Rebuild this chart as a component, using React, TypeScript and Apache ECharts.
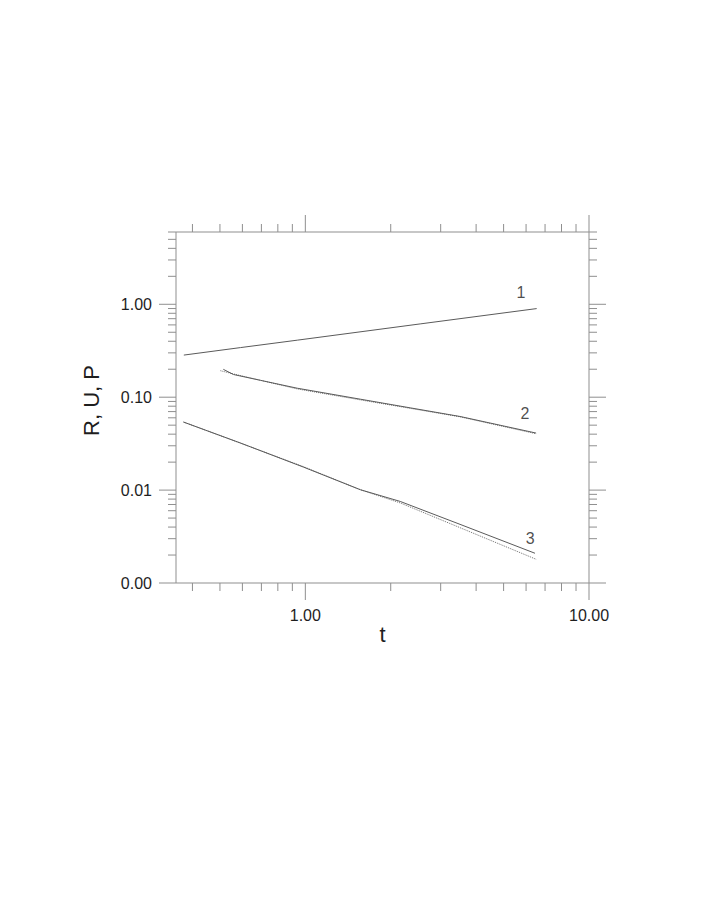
import React, { useEffect, useRef } from 'react';
import * as echarts from 'echarts';

const X_MIN = 0.35;
const X_MAX = 10;
const Y_MIN = 0.001;
const Y_MAX = 6;

// Curve 1 (solid)
const c1T = [0.373, 0.591, 0.937, 2.54, 6.54];
const c1V = [0.284, 0.342, 0.411, 0.615, 0.899];
// Curve 2 (solid / dotted)
const c2T = [0.514, 0.558, 0.694, 0.937, 1.562, 2.343, 3.51, 6.51];
const c2V = [0.1995, 0.1755, 0.152, 0.1249, 0.0952, 0.0768, 0.062, 0.0411];
const c2dT = [0.502, 0.558, 0.937, 1.562, 3.51, 6.51];
const c2dV = [0.1928, 0.178, 0.1227, 0.0936, 0.0615, 0.0404];
// Curve 3 (solid / dotted)
const c3T = [0.372, 0.591, 0.984, 1.562, 2.16, 3.51, 6.45];
const c3V = [0.054, 0.0321, 0.0177, 0.0101, 0.00755, 0.00428, 0.00209];
const c3dT = [0.372, 0.591, 0.984, 1.562, 2.16, 3.51, 6.51];
const c3dV = [0.054, 0.032, 0.0179, 0.0101, 0.00728, 0.00394, 0.0018];

// Curve labels
const labelTexts = ['1', '2', '3'];
const labelT = [5.76, 5.95, 6.2];
const labelV = [1.354, 0.0674, 0.003];

// Ticks
const xMajor = [1, 10];
const xMinor = [0.4, 0.5, 0.6, 0.7, 0.8, 0.9, 2, 3, 4, 5, 6, 7, 8, 9];
const yMajor = [0.001, 0.01, 0.1, 1];
const yMinor = [
  0.002, 0.003, 0.004, 0.005, 0.006, 0.007, 0.008, 0.009,
  0.02, 0.03, 0.04, 0.05, 0.06, 0.07, 0.08, 0.09,
  0.2, 0.3, 0.4, 0.5, 0.6, 0.7, 0.8, 0.9,
  2, 3, 4, 5, 6,
];

const AXIS_COLOR = '#8f8f8f';
const LINE_COLOR = '#5a5a5a';
const DOT_COLOR = '#707070';
const TEXT_COLOR = '#1e1e1e';
const FONT = '"Liberation Sans", Arial, Helvetica, sans-serif';

const zip = (a: number[], b: number[]) => a.map((v, i) => [v, b[i]]);

const isDecade = (v: number) => {
  const l = Math.log10(v);
  return Math.abs(l - Math.round(l)) < 1e-6;
};

const xTickRender = (len: number) => (_params: any, api: any) => {
  const t = api.value(0);
  const b = api.coord([t, Y_MIN]);
  const tp = api.coord([t, Y_MAX]);
  const style = { stroke: AXIS_COLOR, lineWidth: 1 };
  return {
    type: 'group',
    children: [
      { type: 'line', shape: { x1: b[0], y1: b[1], x2: b[0], y2: b[1] + len }, style },
      { type: 'line', shape: { x1: tp[0], y1: tp[1], x2: tp[0], y2: tp[1] - len }, style },
    ],
  };
};

const yTickRender = (len: number) => (_params: any, api: any) => {
  const v = api.value(1);
  const l = api.coord([X_MIN, v]);
  const r = api.coord([X_MAX, v]);
  const style = { stroke: AXIS_COLOR, lineWidth: 1 };
  return {
    type: 'group',
    children: [
      { type: 'line', shape: { x1: l[0], y1: l[1], x2: l[0] - len, y2: l[1] }, style },
      { type: 'line', shape: { x1: r[0], y1: r[1], x2: r[0] + len, y2: r[1] }, style },
    ],
  };
};

export default function App() {
  const ref = useRef<HTMLDivElement>(null);

  useEffect(() => {
    document.body.style.margin = '0';
    if (!ref.current) return;
    const chart = echarts.init(ref.current, null, { renderer: 'svg' });
    const option: any = {
      animation: false,
      backgroundColor: '#ffffff',
      grid: {
        left: 176,
        right: 119,
        top: 232,
        bottom: 334,
        show: true,
        borderColor: AXIS_COLOR,
        borderWidth: 1,
        backgroundColor: 'transparent',
      },
      xAxis: {
        type: 'log',
        logBase: 10,
        min: X_MIN,
        max: X_MAX,
        name: 't',
        nameLocation: 'middle',
        nameGap: 40,
        nameTextStyle: { fontFamily: FONT, fontSize: 22, color: TEXT_COLOR },
        axisLine: { show: false },
        axisTick: { show: false },
        splitLine: { show: false },
        minorTick: { show: false },
        axisLabel: {
          margin: 24,
          fontFamily: FONT,
          fontSize: 16,
          color: TEXT_COLOR,
          formatter: (v: number) => (isDecade(v) ? v.toFixed(2) : ''),
        },
      },
      yAxis: {
        type: 'log',
        logBase: 10,
        min: Y_MIN,
        max: Y_MAX,
        name: 'R, U, P',
        nameLocation: 'middle',
        nameGap: 74,
        nameTextStyle: { fontFamily: FONT, fontSize: 22, color: TEXT_COLOR, padding: [0, 0, 0, 14] },
        axisLine: { show: false },
        axisTick: { show: false },
        splitLine: { show: false },
        minorTick: { show: false },
        axisLabel: {
          margin: 24,
          fontFamily: FONT,
          fontSize: 16,
          color: TEXT_COLOR,
          formatter: (v: number) => (isDecade(v) ? v.toFixed(2) : ''),
        },
      },
      series: [
        {
          type: 'custom',
          silent: true,
          renderItem: xTickRender(8),
          data: xMinor.map((t) => [t, Y_MIN]),
        },
        {
          type: 'custom',
          silent: true,
          renderItem: xTickRender(17),
          data: xMajor.map((t) => [t, Y_MIN]),
        },
        {
          type: 'custom',
          silent: true,
          renderItem: yTickRender(8),
          data: yMinor.map((v) => [X_MIN, v]),
        },
        {
          type: 'custom',
          silent: true,
          renderItem: yTickRender(17),
          data: yMajor.map((v) => [X_MIN, v]),
        },
        {
          type: 'line',
          data: zip(c1T, c1V),
          showSymbol: false,
          lineStyle: { color: LINE_COLOR, width: 1 },
        },
        {
          type: 'line',
          data: zip(c2dT, c2dV),
          showSymbol: false,
          lineStyle: { color: DOT_COLOR, width: 1, type: 'dotted' },
        },
        {
          type: 'line',
          data: zip(c2T, c2V),
          showSymbol: false,
          lineStyle: { color: LINE_COLOR, width: 1 },
        },
        {
          type: 'line',
          data: zip(c3dT, c3dV),
          showSymbol: false,
          lineStyle: { color: DOT_COLOR, width: 1, type: 'dotted' },
        },
        {
          type: 'line',
          data: zip(c3T, c3V),
          showSymbol: false,
          lineStyle: { color: LINE_COLOR, width: 1 },
        },
        {
          type: 'scatter',
          symbolSize: 0,
          silent: true,
          data: labelTexts.map((s, i) => ({ name: s, value: [labelT[i], labelV[i]] })),
          label: {
            show: true,
            position: 'inside',
            formatter: (p: any) => p.name,
            fontFamily: FONT,
            fontSize: 16,
            color: TEXT_COLOR,
          },
        },
      ],
    };
    chart.setOption(option);
    return () => chart.dispose();
  }, []);

  return <div ref={ref} style={{ width: 708, height: 917 }} />;
}
